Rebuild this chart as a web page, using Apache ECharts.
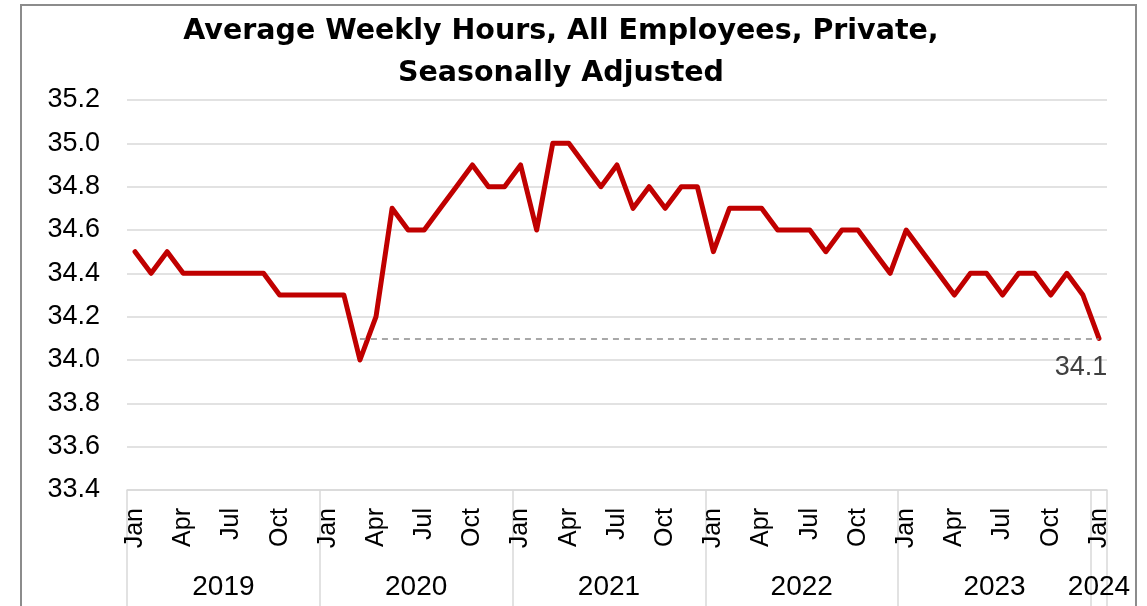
<!DOCTYPE html>
<html>
<head>
    <meta charset="utf-8">
    <script src="https://cdn.jsdelivr.net/npm/echarts@6/dist/echarts.min.js"></script>
    <style type="text/css">
        #main {height:606px;width:1147px;position:absolute;}
        body {margin:0px;padding:0px;overflow:hidden;background:#fff;}
    </style>
</head>
<body>
    <div id="main"></div>
    <script type="text/javascript">
        // monthly data, Jan 2019 .. Jan 2024
        let monthNames = ['Jan','Feb','Mar','Apr','May','Jun','Jul','Aug','Sep','Oct','Nov','Dec'];
        let years = ['2019','2020','2021','2022','2023','2024'];
        let hours = [
            34.5,34.4,34.5,34.4,34.4,34.4,34.4,34.4,34.4,34.3,34.3,34.3,
            34.3,34.3,34.0,34.2,34.7,34.6,34.6,34.7,34.8,34.9,34.8,34.8,
            34.9,34.6,35.0,35.0,34.9,34.8,34.9,34.7,34.8,34.7,34.8,34.8,
            34.5,34.7,34.7,34.7,34.6,34.6,34.6,34.5,34.6,34.6,34.5,34.4,
            34.6,34.5,34.4,34.3,34.4,34.4,34.3,34.4,34.4,34.3,34.4,34.3,
            34.1
        ];
        let refValue = 34.1;
        let refStart = 13.67; // where the line first crosses 34.1 (between Feb and Mar 2020)

        let categories = [];
        for (let i = 0; i < hours.length; i++) {
            categories.push(monthNames[i % 12] + ' ' + years[Math.floor(i / 12)]);
        }
        let n = hours.length;

        // year separators and year label positions on a value scale of month index
        let yearTicks = [-0.5];
        let yearCenters = [];
        for (let y = 0; y < years.length; y++) {
            let start = y * 12 - 0.5;
            let end = Math.min((y + 1) * 12, n) - 0.5;
            yearTicks.push(end);
            yearCenters.push((start + end) / 2);
        }

        // only the last point gets a value label
        let seriesData = hours.map(function (v, i) {
            if (i === n - 1) {
                return {
                    value: v,
                    label: {
                        show: true, position: 'bottom', distance: 16, offset: [-18, 0],
                        formatter: '{c}', fontSize: 27, color: '#404040',
                        fontFamily: 'Liberation Sans'
                    }
                };
            }
            return v;
        });

        let myChart = echarts.init(document.getElementById('main'));
        let option = {
            animation: false,
            backgroundColor: '#fff',
            title: {
                text: 'Average Weekly Hours, All Employees, Private,\nSeasonally Adjusted',
                left: 556,
                top: 6,
                textAlign: 'center',
                textStyle: {
                    fontFamily: 'DejaVu Sans',
                    fontWeight: 'bold',
                    fontSize: 28.5,
                    lineHeight: 42,
                    color: '#000'
                }
            },
            graphic: [{
                type: 'rect',
                shape: {x: 21, y: 5, width: 1115, height: 700},
                style: {fill: null, stroke: '#8c8c8c', lineWidth: 2},
                silent: true
            }],
            grid: {left: 127, right: 40, top: 100, bottom: 116},
            xAxis: [
                {
                    type: 'category',
                    data: categories,
                    boundaryGap: true,
                    axisLine: {show: true, lineStyle: {color: '#d9d9d9', width: 1.5}},
                    axisTick: {show: false},
                    axisLabel: {
                        interval: function (idx) { return idx % 3 === 0; },
                        formatter: function (val) { return val.split(' ')[0]; },
                        rotate: 90,
                        margin: 18,
                        fontSize: 25,
                        color: '#000',
                        fontFamily: 'Liberation Sans'
                    },
                    splitLine: {show: false}
                },
                {
                    type: 'value',
                    position: 'bottom',
                    min: -0.5,
                    max: n - 0.5,
                    axisLine: {show: false},
                    splitLine: {show: false},
                    axisTick: {
                        show: true,
                        customValues: yearTicks,
                        length: 120,
                        lineStyle: {color: '#d9d9d9', width: 1.5}
                    },
                    axisLabel: {
                        customValues: yearCenters,
                        formatter: function (v) {
                            let k = yearCenters.findIndex(function (c) { return Math.abs(c - v) < 0.01; });
                            return k >= 0 ? years[k] : '';
                        },
                        margin: 83,
                        fontSize: 28,
                        color: '#000',
                        fontFamily: 'Liberation Sans'
                    }
                }
            ],
            yAxis: {
                type: 'value',
                min: 33.4,
                max: 35.2,
                interval: 0.2,
                axisLine: {show: false},
                axisTick: {show: false},
                axisLabel: {
                    formatter: function (v) { return v.toFixed(1); },
                    margin: 27,
                    fontSize: 27,
                    color: '#000',
                    fontFamily: 'Liberation Sans'
                },
                splitLine: {show: true, lineStyle: {color: '#d9d9d9', width: 1.5}}
            },
            series: [{
                type: 'line',
                data: seriesData,
                symbol: 'circle',
                symbolSize: 0,
                showSymbol: true,
                label: {show: false},
                lineStyle: {color: '#c00000', width: 5, join: 'round', cap: 'round'},
                itemStyle: {color: '#c00000'},
                markLine: {
                    silent: true,
                    symbol: 'none',
                    label: {show: false},
                    lineStyle: {color: '#8c8c8c', width: 1.5, type: [6, 5]},
                    data: [[{coord: [refStart, refValue]}, {coord: [n - 1, refValue]}]]
                }
            }]
        };
        myChart.setOption(option);
        window.onresize = myChart.resize;
    </script>
</body>
</html>
